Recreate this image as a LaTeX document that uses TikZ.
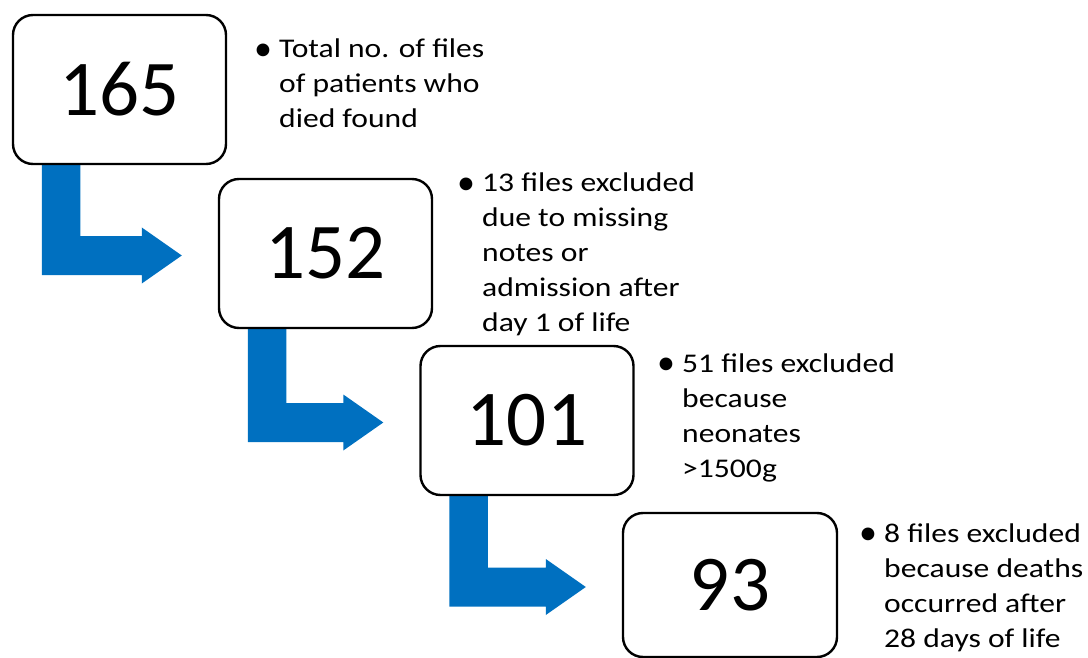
\documentclass[tikz,border=0pt]{standalone}
\usepackage{fontspec}
\setmainfont{Carlito}
\newfontfamily\notefont{Carlito}[FakeStretch=1.17]
\usetikzlibrary{calc}
\pgfdeclarelayer{bg}
\pgfsetlayers{bg,main}
\definecolor{arrowblue}{HTML}{0070C0}
\tikzset{
  countbox/.style={draw=black, line width=2.4pt, rounded corners=20pt, fill=white,
    minimum width=213pt, minimum height=149pt, inner sep=0pt,
    font=\fontsize{79}{90}\selectfont},
  notetext/.style={anchor=base west, inner sep=0pt, align=left,
    font=\notefont\fontsize{27}{35}\selectfont},
  elbow/.style={fill=arrowblue, draw=none},
}
\newcommand\elbowarrow[2]{%
  \begin{pgfonlayer}{bg}
  \fill[elbow] let \p1=(#1.south west), \p2=(#2.west) in
    (\x1+30pt,\y1+2pt) -- (\x1+30pt,\y2-2pt-19.5pt) -- (\x2-76pt,\y2-2pt-19.5pt)
    -- (\x2-76pt,\y2-2pt-28pt) -- (\x2-36pt,\y2-2pt) -- (\x2-76pt,\y2-2pt+28pt)
    -- (\x2-76pt,\y2-2pt+19.5pt) -- (\x1+68.5pt,\y2-2pt+19.5pt) -- (\x1+68.5pt,\y1+2pt) -- cycle;
  \end{pgfonlayer}}
\newcommand\bul{\hspace*{-3pt}\raisebox{-2.5pt}{\rmfamily\fontsize{36}{35}\selectfont •}}
\newcommand\notelines[1]{\begin{tabular}[t]{@{}p{22pt}@{}l@{}}#1\end{tabular}}
\begin{document}
\begin{tikzpicture}[x=1pt,y=-1pt]
\useasboundingbox (0,0) rectangle (1088,658);
\node[countbox] (b1) at (119.5,89.5) {165};
\node[countbox] (b2) at (325.5,253.5) {152};
\node[countbox] (b3) at (527,420.5) {101};
\node[countbox, minimum width=214pt, minimum height=144pt] (b4) at (730,585) {93};
\elbowarrow{b1}{b2}
\elbowarrow{b2}{b3}
\elbowarrow{b3}{b4}
\node[notetext] (t1) at (257,58) {\notelines{\bul&Total no. of files\\&of patients who\\&died found}};
\node[notetext] (t2) at (460,192) {\notelines{\bul&13 files excluded\\&due to missing\\&notes or\\&admission after\\&day 1 of life}};
\node[notetext] (t3) at (660,372) {\notelines{\bul&51 files excluded\\&because\\&neonates\\&>1500g}};
\node[notetext] (t4) at (862,542) {\notelines{\bul&8 files excluded\\&because deaths\\&occurred after\\&28 days of life}};
\end{tikzpicture}
\end{document}
